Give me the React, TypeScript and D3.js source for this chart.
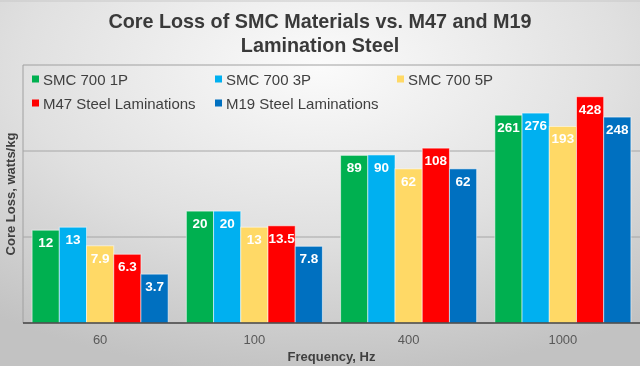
import * as d3 from 'd3';

// chart data
const frequencies = ['60', '100', '400', '1000'];
const seriesNames = ['SMC 700 1P', 'SMC 700 3P', 'SMC 700 5P', 'M47 Steel Laminations', 'M19 Steel Laminations'];
const seriesColors = ['#00b050', '#00b0f0', '#ffd966', '#ff0000', '#0070c0'];
const smc1P = [12, 20, 89, 261];
const smc3P = [13, 20, 90, 276];
const smc5P = [7.9, 13, 62, 193];
const m47 = [6.3, 13.5, 108, 428];
const m19 = [3.7, 7.8, 62, 248];
const valueLabels = [
  ['12', '20', '89', '261'],
  ['13', '20', '90', '276'],
  ['7.9', '13', '62', '193'],
  ['6.3', '13.5', '108', '428'],
  ['3.7', '7.8', '62', '248'],
];
const gridValues = [10, 100];

const W = 640;
const H = 366;
const FONT = '"Liberation Sans", Arial, sans-serif';
const plot = { left: 23, right: 640, top: 65, bottom: 323 };

export default function App() {
  const series = [smc1P, smc3P, smc5P, m47, m19];

  const x0 = d3.scaleBand<string>()
    .domain(frequencies)
    .range([plot.left, plot.right])
    .paddingInner(0.118)
    .paddingOuter(0.059);

  const x1 = d3.scaleBand<number>()
    .domain(d3.range(series.length))
    .range([0, x0.bandwidth()]);

  const y = d3.scaleLog()
    .domain([1, 1000])
    .range([plot.bottom, plot.top]);

  const legendCols = [32, 215, 397];
  const legendRows = [79, 103];

  return (
    <svg width={W} height={H} style={{ position: 'fixed', left: 0, top: 0, display: 'block' }} fontFamily={FONT}>
      <defs>
        <radialGradient id="bg" cx="50%" cy="18%" r="85%" fx="50%" fy="18%">
          <stop offset="0%" stopColor="#fbfbfb" />
          <stop offset="55%" stopColor="#e0e0e0" />
          <stop offset="100%" stopColor="#c2c2c2" />
        </radialGradient>
      </defs>
      <rect x={0} y={0} width={W} height={H} fill="url(#bg)" />
      <line x1={0} x2={W} y1={1} y2={1} stroke="#c8c8c8" />

      {/* title */}
      <text x={W / 2} y={21} textAnchor="middle" dominantBaseline="central" fontSize={19.8} fontWeight="bold" fill="#3a3a3a">
        Core Loss of SMC Materials vs. M47 and M19
      </text>
      <text x={W / 2} y={45} textAnchor="middle" dominantBaseline="central" fontSize={19.8} fontWeight="bold" fill="#3a3a3a">
        Lamination Steel
      </text>

      {/* plot frame and grid */}
      <line x1={plot.left} x2={plot.right} y1={plot.top} y2={plot.top} stroke="#a0a0a0" />
      <line x1={plot.left} x2={plot.left} y1={plot.top} y2={plot.bottom} stroke="#a0a0a0" />
      {gridValues.map(v => (
        <line key={v} x1={plot.left} x2={plot.right} y1={y(v)} y2={y(v)} stroke="#a6a6a6" />
      ))}

      {/* legend */}
      {seriesNames.map((name, i) => {
        const lx = legendCols[i % 3];
        const ly = legendRows[Math.floor(i / 3)];
        return (
          <g key={name}>
            <rect x={lx} y={ly - 3.5} width={7} height={7} fill={seriesColors[i]} />
            <text x={lx + 11} y={ly} dominantBaseline="central" fontSize={15} fill="#404040">{name}</text>
          </g>
        );
      })}

      {/* bars */}
      {series.map((vals, si) => (
        <g key={si}>
          {vals.map((v, ci) => {
            const bx = (x0(frequencies[ci]) as number) + (x1(si) as number);
            const by = y(v);
            return (
              <g key={ci}>
                <rect x={bx} y={by} width={x1.bandwidth()} height={plot.bottom - by}
                  fill={seriesColors[si]} stroke="#ffffff" strokeOpacity={0.55} strokeWidth={1} />
                <text x={bx + x1.bandwidth() / 2} y={by + 12.5} textAnchor="middle" dominantBaseline="central"
                  fontSize={13.5} fontWeight="bold" fill="#ffffff">{valueLabels[si][ci]}</text>
              </g>
            );
          })}
        </g>
      ))}

      {/* baseline */}
      <line x1={plot.left} x2={plot.right} y1={plot.bottom} y2={plot.bottom} stroke="#404040" strokeWidth={1.5} />

      {/* x ticks */}
      {frequencies.map(f => (
        <text key={f} x={(x0(f) as number) + x0.bandwidth() / 2} y={339} textAnchor="middle" dominantBaseline="central"
          fontSize={13} fill="#595959">{f}</text>
      ))}

      {/* axis titles */}
      <text x={(plot.left + plot.right) / 2} y={356} textAnchor="middle" dominantBaseline="central" fontSize={13}
        fontWeight="bold" fill="#404040">Frequency, Hz</text>
      <text transform={`translate(10,${(plot.top + plot.bottom) / 2}) rotate(-90)`} textAnchor="middle"
        dominantBaseline="central" fontSize={13} fontWeight="bold" fill="#404040">Core Loss, watts/kg</text>
    </svg>
  );
}
